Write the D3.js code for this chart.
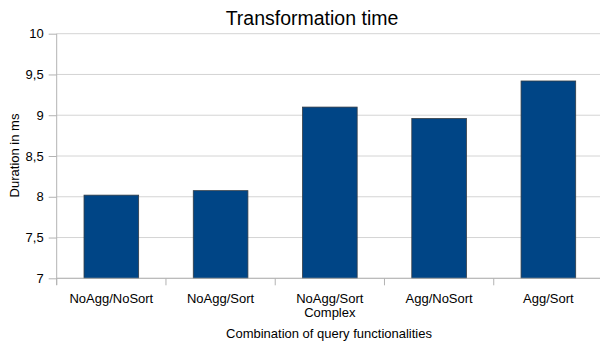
<!DOCTYPE html>
<html><head><meta charset="utf-8">
<script src="https://cdn.jsdelivr.net/npm/d3@7"></script>
<style>body{margin:0;background:#fff}svg{display:block}</style>
</head><body>
<script>
const categories = ["NoAgg/NoSort", "NoAgg/Sort", "NoAgg/Sort\nComplex", "Agg/NoSort", "Agg/Sort"];
const durations = [8.02, 8.075, 9.1, 8.96, 9.42];
const yTicks = [7, 7.5, 8, 8.5, 9, 9.5, 10];

const W = 600, H = 344;
const svg = d3.select("body").append("svg").attr("width", W).attr("height", H);
const font = "'Liberation Sans', Arial, sans-serif";

const x = d3.scaleBand().domain(categories).range([56.7, 603]).paddingInner(0.5).paddingOuter(0.25);
const y = d3.scaleLinear().domain([7, 10]).range([278.3, 33.7]);

// gridlines
svg.append("g").selectAll("line").data(yTicks).join("line")
  .attr("x1", 56.7).attr("x2", 603)
  .attr("y1", d => y(d)).attr("y2", d => y(d))
  .attr("stroke", "#d4d4d4").attr("stroke-width", 1);

// bars
svg.append("g").selectAll("rect").data(durations).join("rect")
  .attr("x", (d, i) => x(categories[i]))
  .attr("width", x.bandwidth())
  .attr("y", d => y(d))
  .attr("height", d => y(7) - y(d))
  .attr("fill", "#004586")
  .attr("stroke", "#333c45").attr("stroke-width", 0.8);

// y axis
const yAxis = d3.axisLeft(y).tickValues(yTicks).tickSize(8).tickPadding(5)
  .tickFormat(d => d3.format("~g")(d).replace(".", ","));
const gy = svg.append("g").attr("transform", "translate(56.7,0)").call(yAxis);
gy.select(".domain").attr("stroke", "#b3b3b3").attr("d", "M0,33.7V285");
gy.selectAll(".tick line").attr("stroke", "#b3b3b3");
gy.selectAll(".tick text").attr("font-family", font).attr("font-size", 13).attr("fill", "#000");

// x axis boundaries ticks
const step = x.step();
const bounds = d3.range(categories.length + 1).map(i => 56.7 + i * step);
svg.append("line").attr("x1", 56.7).attr("x2", 603).attr("y1", y(7)).attr("y2", y(7)).attr("stroke", "#b3b3b3");
svg.append("g").selectAll("line").data(bounds).join("line")
  .attr("x1", d => d).attr("x2", d => d).attr("y1", y(7)).attr("y2", y(7) + 7)
  .attr("stroke", "#b3b3b3");

// x labels (one text element per line)
const labelLines = categories.flatMap(c => c.split("\n").map((l, i) => ({c, l, i})));
svg.append("g").selectAll("text").data(labelLines).join("text")
  .attr("x", d => x(d.c) + x.bandwidth() / 2)
  .attr("y", d => 302.6 + d.i * 14.8)
  .attr("text-anchor", "middle").attr("font-family", font).attr("font-size", 13).attr("fill", "#000")
  .text(d => d.l);

// titles
svg.append("text").attr("x", 312).attr("y", 25).attr("text-anchor", "middle")
  .attr("font-family", font).attr("font-size", 19.5).attr("fill", "#000").text("Transformation time");
svg.append("text").attr("x", 329).attr("y", 337.7).attr("text-anchor", "middle")
  .attr("font-family", font).attr("font-size", 13).attr("fill", "#000").text("Combination of query functionalities");
svg.append("text").attr("transform", "translate(19,155.5) rotate(-90)").attr("text-anchor", "middle")
  .attr("font-family", font).attr("font-size", 13).attr("fill", "#000").text("Duration in ms");
</script>
</body></html>
